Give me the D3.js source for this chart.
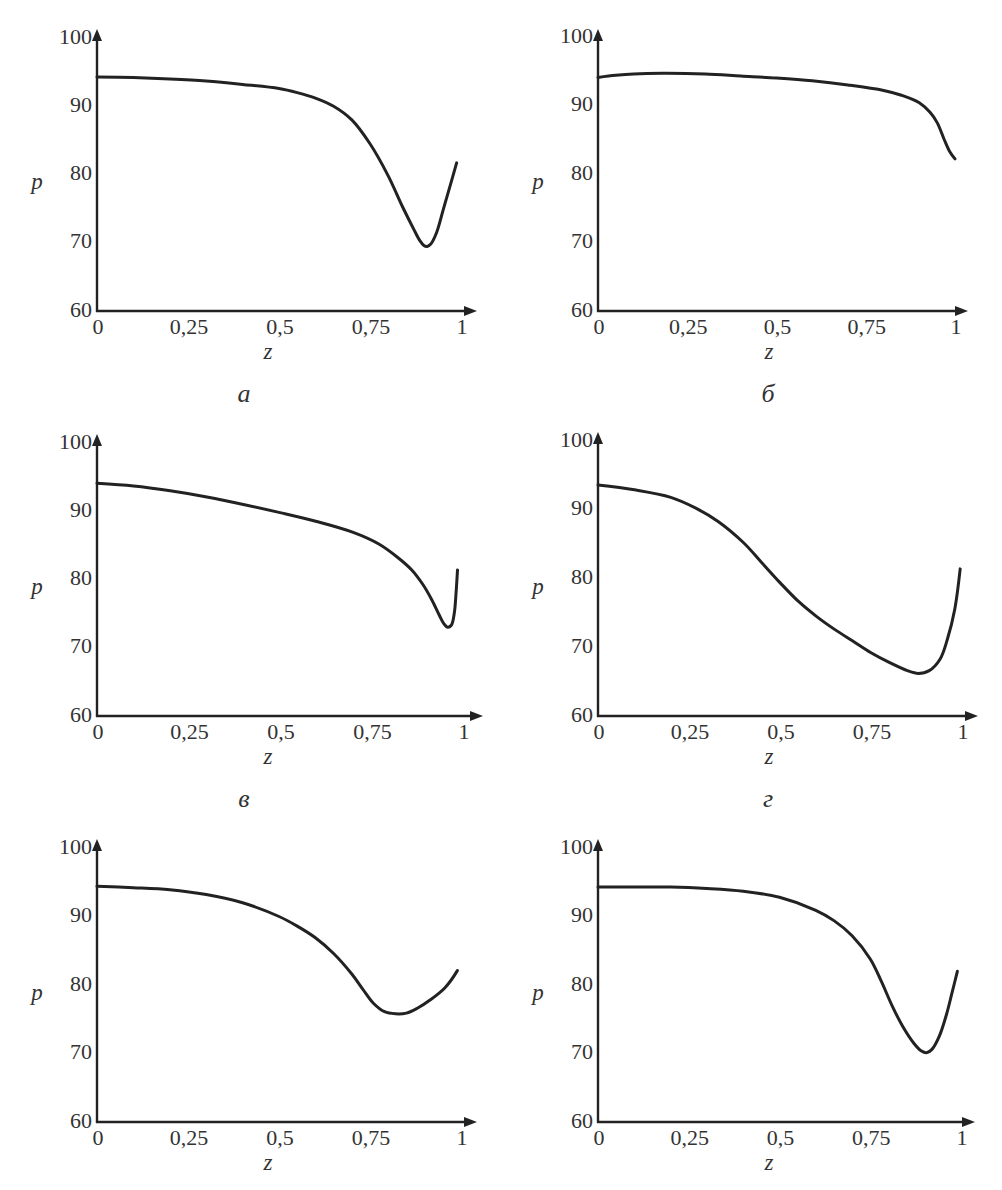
<!DOCTYPE html>
<html><head><meta charset="utf-8">
<script src="https://cdn.jsdelivr.net/npm/d3@7"></script>
<style>
body{margin:0;background:#fff;}
</style></head>
<body>
<svg id="chart" width="1002" height="1190"></svg>
<script>
// ---- data ----
const zTicks = [0, 0.25, 0.5, 0.75, 1];
const zTickLabels = ["0", "0,25", "0,5", "0,75", "1"];
const pTicks = [60, 70, 80, 90, 100];
const pTickLabels = ["60", "70", "80", "90", "100"];
const captions = ["а", "б", "в", "г", "", ""];

const seriesA = [[0,94.3],[0.1,94.2],[0.2,94.0],[0.3,93.7],[0.4,93.2],[0.5,92.6],[0.55,92.0],[0.6,91.2],[0.65,90.0],[0.7,88.0],[0.75,84.5],[0.8,79.8],[0.84,75.2],[0.87,72.0],[0.887,70.3],[0.898,69.6],[0.907,69.45],[0.917,69.8],[0.933,71.5],[0.952,75.0],[0.972,78.7],[0.988,81.7]];
const seriesB = [[0,94.1],[0.05,94.4],[0.1,94.6],[0.18,94.7],[0.3,94.6],[0.4,94.3],[0.5,94.0],[0.6,93.6],[0.7,93.0],[0.8,92.2],[0.85,91.5],[0.9,90.4],[0.93,89.0],[0.95,87.5],[0.97,85.0],[0.985,83.3],[1.0,82.2]];
const seriesC = [[0,94.1],[0.1,93.7],[0.2,93.0],[0.3,92.1],[0.4,91.0],[0.5,89.8],[0.6,88.5],[0.7,86.9],[0.77,85.2],[0.82,83.3],[0.86,81.4],[0.89,79.3],[0.915,77.0],[0.935,74.8],[0.948,73.5],[0.958,73.0],[0.968,73.3],[0.976,75.0],[0.981,78.0],[0.985,81.4]];
const seriesD = [[0,93.6],[0.1,92.9],[0.2,91.8],[0.27,90.2],[0.33,88.3],[0.4,85.2],[0.45,82.3],[0.5,79.4],[0.55,76.7],[0.6,74.5],[0.65,72.6],[0.7,70.9],[0.75,69.2],[0.8,67.8],[0.85,66.6],[0.88,66.2],[0.91,66.6],[0.94,68.3],[0.96,71.2],[0.98,75.5],[0.995,81.4]];
const seriesE = [[0,94.4],[0.1,94.2],[0.2,93.9],[0.3,93.2],[0.4,92.0],[0.5,90.0],[0.55,88.6],[0.6,86.9],[0.65,84.6],[0.7,81.6],[0.73,79.4],[0.76,77.3],[0.79,76.1],[0.82,75.8],[0.85,75.9],[0.88,76.6],[0.915,77.8],[0.956,79.6],[0.99,82.1]];
const seriesF = [[0,94.3],[0.1,94.3],[0.2,94.3],[0.3,94.1],[0.4,93.7],[0.5,92.8],[0.6,90.9],[0.65,89.4],[0.7,87.2],[0.75,83.8],[0.78,80.6],[0.81,77.0],[0.84,73.9],[0.87,71.5],[0.89,70.4],[0.905,70.1],[0.92,70.6],[0.94,72.5],[0.96,75.7],[0.975,78.8],[0.99,82.0]];
const allSeries = [seriesA, seriesB, seriesC, seriesD, seriesE, seriesF];

// ---- layout ----
const layout = [
  {x0:97,  x1:461, y0:311,  y1:38,  xEnd:477, yTop:29},
  {x0:598, x1:955, y0:311,  y1:37,  xEnd:968, yTop:29},
  {x0:97,  x1:463, y0:716,  y1:443, xEnd:483, yTop:434},
  {x0:598, x1:962, y0:716,  y1:441, xEnd:978, yTop:432},
  {x0:97,  x1:461, y0:1122, y1:848, xEnd:477, yTop:839},
  {x0:598, x1:961, y0:1122, y1:848, xEnd:975, yTop:839}
];

const FONT = "'Liberation Serif', 'Times New Roman', Times, serif";
const svg = d3.select("#chart");
const ink = "#222";
const txt = "#333";

layout.forEach((L, i) => {
  const x = d3.scaleLinear().domain([0,1]).range([L.x0, L.x1]);
  const y = d3.scaleLinear().domain([60,100]).range([L.y0, L.y1]);
  const g = svg.append("g").attr("font-family", FONT).attr("fill", txt);

  // axes lines
  g.append("line").attr("x1", L.x0).attr("x2", L.x0).attr("y1", L.y0 + 1).attr("y2", L.yTop + 8)
    .attr("stroke", ink).attr("stroke-width", 2.4);
  g.append("line").attr("x1", L.x0 - 1).attr("x2", L.xEnd - 8).attr("y1", L.y0).attr("y2", L.y0)
    .attr("stroke", ink).attr("stroke-width", 2.4);
  // arrows
  g.append("path").attr("d", `M${L.x0},${L.yTop} L${L.x0-5},${L.yTop+12} L${L.x0+5},${L.yTop+12} Z`).attr("fill", ink);
  g.append("path").attr("d", `M${L.xEnd},${L.y0} L${L.xEnd-13},${L.y0-5} L${L.xEnd-13},${L.y0+5} Z`).attr("fill", ink);

  // y tick labels
  g.selectAll("text.yt").data(pTicks).join("text").attr("class","yt")
    .attr("x", L.x0 - 5).attr("y", d => y(d) - 2).attr("dy", "0.35em")
    .attr("text-anchor", "end").attr("font-size", 22)
    .text((d, k) => pTickLabels[k]);
  // x tick labels
  g.selectAll("text.xt").data(zTicks).join("text").attr("class","xt")
    .attr("x", d => x(d) + 1).attr("y", L.y0 + 23)
    .attr("text-anchor", "middle").attr("font-size", 22)
    .text((d, k) => zTickLabels[k]);

  // axis titles
  g.append("text").attr("x", L.x0 + 171).attr("y", L.y0 + 48).attr("text-anchor","middle")
    .attr("font-size", 23).attr("font-style","italic").text("z");
  g.append("text").attr("x", L.x0 - 60).attr("y", L.y0 - 122).attr("text-anchor","middle")
    .attr("font-size", 23).attr("font-style","italic").text("p");
  if (captions[i]) {
    g.append("text").attr("x", L.x0 + 147 + (i % 2 ? 23 : 0)).attr("y", L.y0 + 91).attr("text-anchor","middle")
      .attr("font-size", 26).attr("font-style","italic").text(captions[i]);
  }

  // curve
  const line = d3.line().x(d => x(d[0])).y(d => y(d[1])).curve(d3.curveCatmullRom.alpha(0.5));
  g.append("path").datum(allSeries[i]).attr("d", line)
    .attr("fill","none").attr("stroke", ink).attr("stroke-width", 3).attr("stroke-linecap","round");
});
</script>
</body></html>
